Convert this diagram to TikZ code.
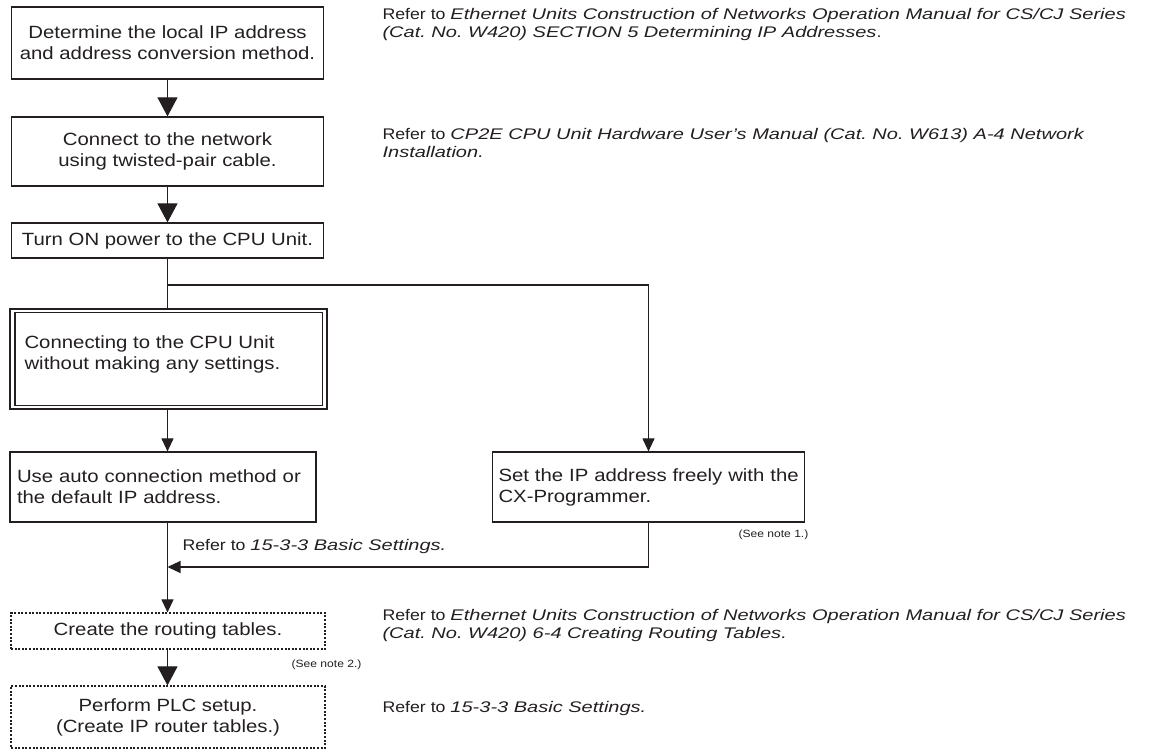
\documentclass[tikz,border=0pt]{standalone}
\usepackage{fontspec}
\setmainfont{Liberation Sans}[FakeStretch=1.15]
\newfontface\refit{Liberation Sans Italic}[FakeStretch=1.3]
\usetikzlibrary{arrows.meta}
\definecolor{ink}{HTML}{231F20}
\newcommand\boxfont{\fontsize{17.7}{21}\selectfont}
\newcommand\reffont{\fontsize{15.4}{18}\selectfont}
\newcommand\notefont{\fontsize{10.5}{12}\selectfont}
\newcommand\rit[1]{{\refit #1}}
\frenchspacing
\begin{document}
\begin{tikzpicture}[x=1pt,y=-1pt,
  every path/.style={draw=ink, line width=1.1pt},
  box/.style={draw=ink, line width=1.2pt, inner sep=0pt, font=\boxfont, text=ink, align=center},
  dbox/.style={box, dash pattern=on 2pt off 1.6pt},
  big/.style={-{Triangle[length=19pt,width=20pt]}},
  small/.style={-{Triangle[length=13pt,width=12pt]}},
  ref/.style={anchor=base west, inner sep=0pt, font=\reffont, align=left, text=ink},
  note/.style={inner sep=0pt, font=\notefont, text=ink}]
\path[use as bounding box, draw=none] (0,0) rectangle (1153,749);
% flow boxes
\node[box, minimum width=312pt, minimum height=72pt] (b1) at (167.5,43) {Determine the local IP address\\and address conversion method.};
\node[box, minimum width=312pt, minimum height=69pt] (b2) at (167.5,151.5) {Connect to the network\\using twisted-pair cable.};
\node[box, minimum width=312pt, minimum height=35pt] (b3) at (167.5,240.5) {Turn ON power to the CPU Unit.};
\node[box, minimum width=317pt, minimum height=100pt] (b4) at (168.5,359) {};
\draw[line width=1.2pt] ([shift={(5.5,4)}]b4.north west) rectangle ([shift={(-5.5,-4)}]b4.south east);
\node[anchor=base west, inner sep=0pt, font=\boxfont, align=left, text=ink] (t4) at (24,369) {Connecting to the CPU Unit\\without making any settings.};
\node[box, minimum width=306pt, minimum height=70pt, align=left, text width=292pt] (b5) at (163,487) {Use auto connection method or\\the default IP address.};
\node[box, minimum width=312pt, minimum height=70pt, align=left, text width=300pt] (bR) at (648.5,487) {\mbox{Set the IP address freely with the}\\CX-Programmer.};
\node[dbox, minimum width=314pt, minimum height=36pt] (b6) at (168,631) {Create the routing tables.};
\node[dbox, minimum width=314pt, minimum height=62pt] (b7) at (168,717) {Perform PLC setup.\\(Create IP router tables.)};
% connectors
\coordinate (j1) at (167.5,285);
\coordinate (j2) at (167.5,567);
\draw[big] (b1.south) -- (b2.north);
\draw[big] (b2.south) -- (b3.north);
\draw (b3.south) -- (b3.south |- b4.north);
\draw[small] (j1) -- (j1 -| bR.north) -- (bR.north);
\draw[small] (b3.south |- b4.south) -- (b3.south |- b5.north);
\draw[small] (b3.south |- b5.south) -- (b3.south |- b6.north);
\draw[small] (bR.south) -- (bR.south |- j2) -- (j2);
\draw[big] (b3.south |- b6.south) -- (b3.south |- b7.north);
% references
\node[ref] (r1) at (382,37.5) {Refer to \rit{Ethernet Units Construction of Networks Operation Manual for CS/CJ Series}\\\rit{(Cat. No. W420) SECTION 5 Determining IP Addresses}.};
\node[ref] (r2) at (382,157.5) {Refer to \rit{CP2E CPU Unit Hardware User’s Manual (Cat. No. W613) A-4 Network}\\\rit{Installation.}};
\node[ref] (r5) at (182,550.5) {Refer to \rit{15-3-3 Basic Settings.}};
\node[ref] (r3) at (382,638.5) {Refer to \rit{Ethernet Units Construction of Networks Operation Manual for CS/CJ Series}\\\rit{(Cat. No. W420) 6-4 Creating Routing Tables.}};
\node[ref] (r4) at (382,712.5) {Refer to \rit{15-3-3 Basic Settings.}};
\node[note, anchor=base west] (n1) at (738,537) {(See note 1.)};
\node[note, anchor=base east] (n2) at (362,667) {(See note 2.)};
\end{tikzpicture}
\end{document}
